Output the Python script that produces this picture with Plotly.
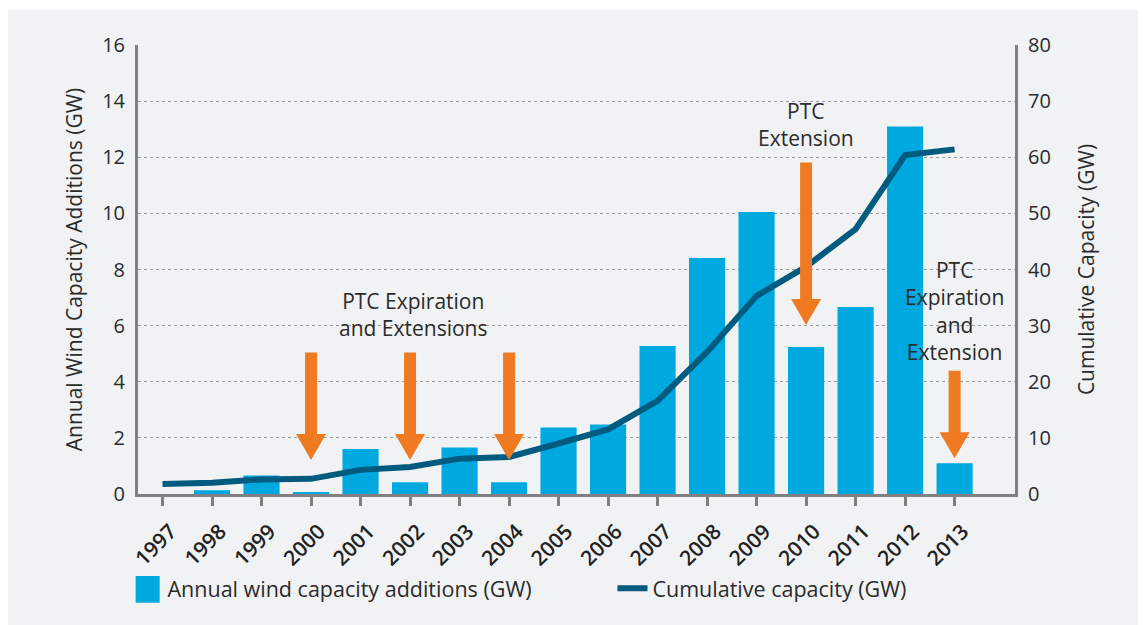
import plotly.graph_objects as go

years = ["1997", "1998", "1999", "2000", "2001", "2002", "2003", "2004", "2005",
         "2006", "2007", "2008", "2009", "2010", "2011", "2012", "2013"]
annual_gw = [0.0, 0.13, 0.66, 0.07, 1.6, 0.42, 1.66, 0.42, 2.37,
             2.48, 5.27, 8.41, 10.05, 5.24, 6.66, 13.1, 1.1]
cumulative_gw = [1.8, 2.0, 2.6, 2.7, 4.3, 4.8, 6.3, 6.6, 9.0,
                 11.5, 16.6, 25.3, 35.3, 40.5, 47.2, 60.4, 61.4]

# policy-event arrows (year index, top and tip on left axis, GW)
arrow_idx = [3, 5, 7, 13, 16]
arrow_top = [5.04, 5.04, 5.04, 11.81, 4.39]
arrow_tip = [1.21, 1.21, 1.21, 6.02, 1.27]

notes = ["PTC Expiration<br>and Extensions", "PTC<br>Extension",
         "PTC<br>Expiration<br>and<br>Extension"]
note_x = [5.06, 13.0, 16.0]
note_y = [6.38, 13.15, 6.52]

FONT = "Open Sans"
TXT = "#2b2b2b"
BAR = "#00a8e0"
LINE = "#005b7e"
ORANGE = "#f07a22"
AXIS = "#808080"
BG = "#f1f2f4"

xi = list(range(len(years)))

fig = go.Figure()
fig.add_trace(go.Bar(x=xi, y=annual_gw, name="Annual wind capacity additions (GW)",
                     marker=dict(color=BAR, line=dict(width=0)), width=0.73,
                     yaxis="y"))
fig.add_trace(go.Scatter(x=xi, y=cumulative_gw, name="Cumulative capacity (GW)",
                         mode="lines", line=dict(color=LINE, width=6),
                         yaxis="y2"))

shapes = [dict(type="rect", xref="paper", yref="paper", x0=-0.16, x1=1.2,
               y0=-0.4, y1=1.078, fillcolor=BG, line=dict(width=0), layer="below"),
          # enlarged legend swatch behind the bar legend icon
          dict(type="rect", xref="paper", yref="paper", x0=-0.0027, x1=0.0247,
               y0=-0.2421, y1=-0.1826, fillcolor=BAR, line=dict(width=0), layer="above")]

sw = 0.121   # half shaft width (x units)
hw = 0.303   # half head width
hl = 0.93    # head length (GW)
for xc, top, tip in zip(arrow_idx, arrow_top, arrow_tip):
    hb = tip + hl
    path = (f"M{xc-sw},{top} L{xc+sw},{top} L{xc+sw},{hb} L{xc+hw},{hb} "
            f"L{xc},{tip} L{xc-hw},{hb} L{xc-sw},{hb} Z")
    shapes.append(dict(type="path", xref="x", yref="y", path=path,
                       fillcolor=ORANGE, line=dict(width=0), layer="above"))

annotations = []
for t, xv, yv in zip(notes, note_x, note_y):
    annotations.append(dict(text=t, x=xv, y=yv, xref="x", yref="y", showarrow=False,
                            font=dict(family=FONT, size=21, color=TXT),
                            align="center", xanchor="center", yanchor="middle"))

fig.update_layout(
    width=1138, height=617,
    margin=dict(l=130, r=131, t=37, b=131),
    paper_bgcolor="white", plot_bgcolor=BG,
    font=dict(family=FONT, color=TXT),
    showlegend=True,
    legend=dict(orientation="h", x=-0.012, y=-0.21, xanchor="left", yanchor="middle",
                font=dict(family=FONT, size=21.5, color=TXT), bgcolor="rgba(0,0,0,0)",
                entrywidth=440, entrywidthmode="pixels", traceorder="normal"),
    bargap=0.27,
    xaxis=dict(range=[-0.495, 17.22], tickmode="array", tickvals=xi, ticktext=years,
               tickangle=-45, ticks="outside", ticklen=9, tickwidth=2.5, tickcolor=AXIS,
               showline=True, linecolor=AXIS, linewidth=3, showgrid=False, zeroline=False,
               ticklabelstandoff=5, ticklabelshift=8,
               tickfont=dict(family=FONT, size=21, color="#222222", weight=600)),
    yaxis=dict(range=[0, 16], dtick=2, showline=True, linecolor=AXIS, linewidth=3,
               showgrid=True, gridcolor="#9c9c9c", gridwidth=1.3, griddash="3px,3px",
               zeroline=False, ticks="", ticklabelstandoff=6,
               tickfont=dict(family=FONT, size=20, color=TXT),
               title=dict(text="Annual Wind Capacity Additions (GW)", standoff=14,
                          font=dict(family=FONT, size=21, color=TXT))),
    yaxis2=dict(range=[0, 80], dtick=10, overlaying="y", side="right", showline=True,
                linecolor=AXIS, linewidth=3, showgrid=False, zeroline=False, ticks="",
                ticklabelstandoff=6, tickfont=dict(family=FONT, size=20, color=TXT),
                title=dict(text="Cumulative Capacity (GW)", standoff=30,
                           font=dict(family=FONT, size=21, color=TXT))),
    shapes=shapes,
    annotations=annotations,
)

fig.write_html("out.html")
